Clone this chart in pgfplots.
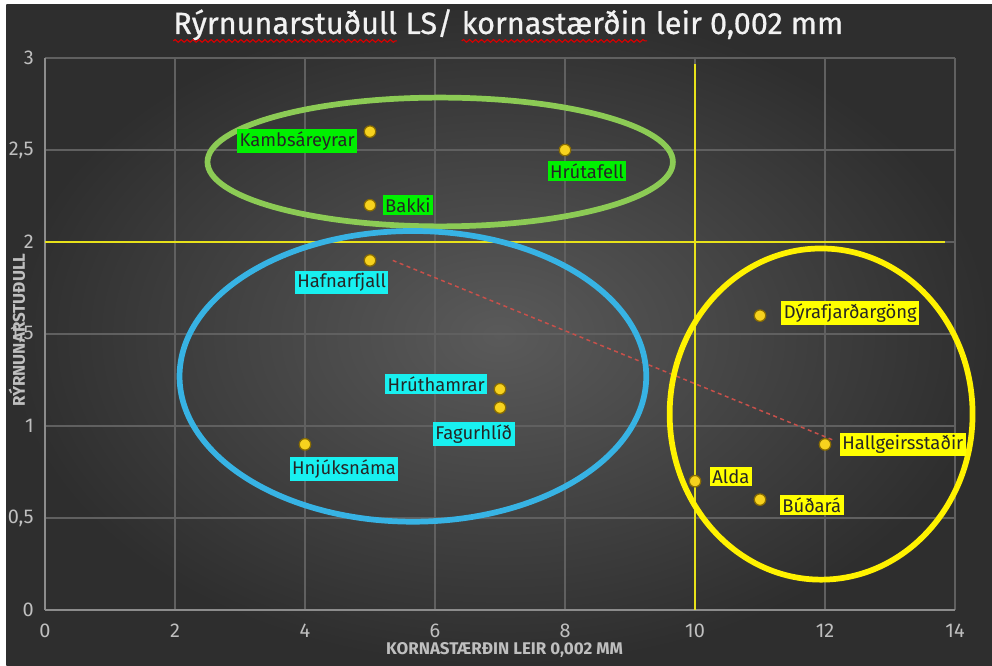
\documentclass[border=0pt]{standalone}
\usepackage{pgfplots}
\pgfplotsset{compat=1.18}
\usepackage{fontspec}
\setmainfont{Fira Sans}
\newfontfamily\titlefont[FakeBold=0.7]{Fira Sans}
\usetikzlibrary{decorations.pathmorphing}

\definecolor{bgin}{HTML}{5A5A5A}
\definecolor{bgout}{HTML}{2E2E2E}
\definecolor{gridc}{HTML}{606060}
\definecolor{axisc}{HTML}{8C8C8C}
\definecolor{tickc}{HTML}{BFBFBF}
\definecolor{ptc}{HTML}{F7D21E}
\definecolor{ptd}{HTML}{8A6D00}
\definecolor{refc}{HTML}{E8E21A}
\definecolor{trendc}{HTML}{C8504A}
\definecolor{ellg}{HTML}{8CCB55}
\definecolor{ellb}{HTML}{37B3E4}
\definecolor{elly}{HTML}{FFF200}
\definecolor{labg}{HTML}{00F000}
\definecolor{labc}{HTML}{18F0F0}
\definecolor{laby}{HTML}{FFFF00}
\definecolor{titlec}{HTML}{F2F2F2}

\newcommand\squig[1]{\tikz[baseline=(w.base)]{\node[inner sep=0pt,outer sep=0pt,text=titlec](w){#1};\draw[red!85!black,line width=0.45pt,decorate,decoration={snake,amplitude=0.55pt,segment length=2.4pt}]([yshift=-2.8pt]w.base west)--([yshift=-2.8pt]w.base east);}}

\begin{document}
\begin{tikzpicture}
\path[use as bounding box] (0,0) rectangle (14cm,9.399cm);
\fill[white] (0,0) rectangle (14cm,9.399cm);
\shade[inner color=bgin, outer color=bgout] (0.09cm,0cm) rectangle (14cm,9.33cm);

\node[text=titlec, font=\titlefont\fontsize{12.3}{14}\selectfont, anchor=base] at (7.17cm,8.92cm)
  {\squig{Rýrnunarstuðull} LS/ \squig{kornastærðin} leir 0,002 mm};

\begin{axis}[
  at={(0.635cm,0.79cm)}, anchor=south west,
  scale only axis, width=12.843cm, height=7.79cm,
  xmin=0, xmax=14, ymin=0, ymax=3,
  xtick={0,2,...,14}, ytick={0,0.5,...,3},
  grid=major, grid style={color=gridc, line width=0.45pt},
  axis x line*=bottom, axis y line*=left,
  axis line style={color=axisc, line width=0.6pt, -},
  major tick length=0pt,
  tick label style={text=tickc, font=\fontsize{8}{9}\selectfont},
  /pgf/number format/use comma,
  /pgf/number format/assume math mode=true,
  xticklabel style={yshift=-2pt},
  yticklabel style={xshift=-1pt},
  xlabel={KORNASTÆRÐIN LEIR 0,002 MM},
  ylabel={RÝRNUNARSTUÐULL},
  xlabel style={at={(axis description cs:0.505,0)}, anchor=center, yshift=-0.564cm, text=tickc, font=\bfseries\fontsize{6.8}{8}\selectfont},
  ylabel style={at={(axis description cs:-0.0308,0.507)}, anchor=center, text=tickc, font=\bfseries\fontsize{6.8}{8}\selectfont},
  clip=false,
]
% reference lines
\addplot[refc, line width=0.6pt] coordinates {(0,2) (13.85,2)};
\addplot[refc, line width=0.6pt] coordinates {(10,0) (10,2.97)};
% trend line
\addplot[trendc, line width=0.6pt, dash pattern=on 1.6pt off 1.4pt] coordinates {(5.35,1.90) (12.15,0.92)};

% ellipses
\draw[ellg, line width=2.3pt] (axis cs:6.08,2.435) ellipse [x radius=3.58, y radius=0.35];
\draw[ellb, line width=2.3pt] (axis cs:5.66,1.27) ellipse [x radius=3.59, y radius=0.79];
\draw[elly, line width=2.3pt] (axis cs:11.94,1.065) ellipse [x radius=2.33, y radius=0.90];

% points
\addplot[only marks, mark=*, mark size=2.3pt, mark options={fill=ptc, draw=ptd, line width=0.5pt}] coordinates {
(5,2.6) (8,2.5) (5,2.2) (5,1.9) (7,1.2) (7,1.1) (4,0.9) (11,1.6) (12,0.9) (10,0.7) (11,0.6)
};

\tikzset{lab/.style={inner sep=1pt, outer sep=0pt, text=black!85, font=\fontsize{7.4}{9}\selectfont}}
\node[lab, fill=labg, anchor=east, xshift=-0.18cm, yshift=-0.13cm] at (axis cs:5,2.6) {Kambsáreyrar};
\node[lab, fill=labg, anchor=center, xshift=0.31cm, yshift=-0.30cm] at (axis cs:8,2.5) {Hrútafell};
\node[lab, fill=labg, anchor=west, xshift=0.18cm] at (axis cs:5,2.2) {Bakki};
\node[lab, fill=labc, anchor=center, xshift=-0.40cm, yshift=-0.31cm] at (axis cs:5,1.9) {Hafnarfjall};
\node[lab, fill=labc, anchor=east, xshift=-0.18cm, yshift=0.07cm] at (axis cs:7,1.2) {Hrúthamrar};
\node[lab, fill=labc, anchor=center, xshift=-0.37cm, yshift=-0.37cm] at (axis cs:7,1.1) {Fagurhlíð};
\node[lab, fill=labc, anchor=center, xshift=0.55cm, yshift=-0.35cm] at (axis cs:4,0.9) {Hnjúksnáma};
\node[lab, fill=laby, anchor=west, xshift=0.30cm, yshift=0.04cm] at (axis cs:11,1.6) {Dýrafjarðargöng};
\node[lab, fill=laby, anchor=west, xshift=0.21cm] at (axis cs:12,0.9) {Hallgeirsstaðir};
\node[lab, fill=laby, anchor=west, xshift=0.21cm, yshift=0.06cm] at (axis cs:10,0.7) {Alda};
\node[lab, fill=laby, anchor=west, xshift=0.28cm, yshift=-0.08cm] at (axis cs:11,0.6) {Búðará};
\end{axis}
\end{tikzpicture}
\end{document}
